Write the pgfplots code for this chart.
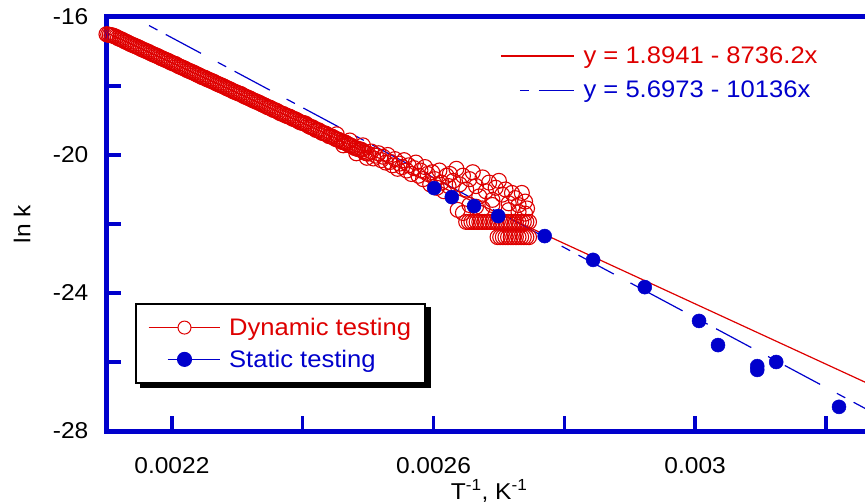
\documentclass[border=0pt]{standalone}
\usepackage{pgfplots}
\pgfplotsset{compat=1.18}
\usepackage{pgfplotstable}
\usepackage{fontspec}
\setmainfont{Liberation Sans}[FakeStretch=1.07]
\definecolor{mred}{RGB}{222,0,0}
\definecolor{mblue}{RGB}{0,0,204}
\pgfdeclarelayer{bg}
\pgfsetlayers{bg,main}

\pgfplotstableread{
x y
0.002100 -16.50
0.0021025 -16.51
0.002105 -16.52
0.0021075 -16.53
0.002110 -16.54
0.0021125 -16.56
0.002115 -16.58
0.0021175 -16.61
0.002120 -16.63
0.0021225 -16.65
0.002125 -16.67
0.0021275 -16.70
0.002130 -16.72
0.0021325 -16.74
0.002135 -16.77
0.0021375 -16.79
0.002140 -16.81
0.0021425 -16.83
0.002145 -16.85
0.0021475 -16.87
0.002150 -16.89
0.0021525 -16.92
0.002155 -16.94
0.0021575 -16.96
0.002160 -16.98
0.0021625 -17.00
0.002165 -17.02
0.0021675 -17.05
0.002170 -17.07
0.0021725 -17.09
0.002175 -17.11
0.0021775 -17.13
0.002180 -17.15
0.0021825 -17.18
0.002185 -17.20
0.0021875 -17.22
0.002190 -17.24
0.0021925 -17.26
0.002195 -17.28
0.0021975 -17.31
0.002200 -17.33
0.0022025 -17.35
0.002205 -17.36
0.0022075 -17.39
0.002210 -17.42
0.0022125 -17.44
0.002215 -17.46
0.0022175 -17.48
0.002220 -17.50
0.0022225 -17.53
0.002225 -17.55
0.0022275 -17.57
0.002230 -17.59
0.0022325 -17.61
0.002235 -17.63
0.0022375 -17.66
0.002240 -17.68
0.0022425 -17.70
0.002245 -17.73
0.0022475 -17.75
0.002250 -17.76
0.0022525 -17.79
0.002255 -17.81
0.0022575 -17.83
0.002260 -17.85
0.0022625 -17.87
0.002265 -17.89
0.0022675 -17.92
0.002270 -17.94
0.0022725 -17.96
0.002275 -17.98
0.0022775 -18.00
0.002280 -18.02
0.0022825 -18.05
0.002285 -18.07
0.0022875 -18.09
0.002290 -18.11
0.0022925 -18.14
0.002295 -18.16
0.0022975 -18.18
0.002300 -18.20
0.0023025 -18.22
0.002305 -18.23
0.0023075 -18.26
0.002310 -18.29
0.0023125 -18.31
0.002315 -18.33
0.0023175 -18.35
0.002320 -18.37
0.0023225 -18.40
0.002325 -18.42
0.0023275 -18.44
0.002330 -18.46
0.0023325 -18.48
0.002335 -18.50
0.0023375 -18.53
0.002340 -18.55
0.0023425 -18.57
0.002345 -18.60
0.0023475 -18.62
0.002350 -18.63
0.0023525 -18.66
0.002355 -18.69
0.0023575 -18.70
0.002360 -18.72
0.0023625 -18.75
0.002365 -18.78
0.0023675 -18.80
0.002370 -18.81
0.0023725 -18.84
0.002375 -18.86
0.0023775 -18.88
0.002380 -18.89
0.0023825 -18.92
0.002385 -18.95
0.0023875 -18.96
0.002390 -18.98
0.0023925 -19.01
0.002395 -19.04
0.0023975 -19.06
0.002400 -19.07
0.0024025 -19.08
0.002405 -19.10
0.0024075 -19.14
0.002410 -19.17
0.0024125 -19.19
0.002415 -19.20
0.0024175 -19.23
0.002420 -19.27
0.0024225 -19.28
0.002425 -19.29
0.0024275 -19.33
0.002430 -19.36
0.0024325 -19.37
0.002435 -19.38
0.0024375 -19.41
0.002440 -19.45
0.0024425 -19.46
0.002445 -19.47
0.0024475 -19.50
0.002450 -19.53
0.0024525 -19.55
0.002455 -19.56
0.0024575 -19.59
0.002460 -19.62
0.0024625 -19.63
0.002465 -19.64
0.0024675 -19.67
0.002470 -19.70
0.0024725 -19.72
0.002475 -19.74
0.0024775 -19.77
0.002480 -19.80
0.0024825 -19.81
0.002485 -19.83
0.0024875 -19.84
0.002490 -19.85
0.0024925 -19.89
0.002495 -19.93
0.0024975 -19.95
0.002500 -19.96
0.002452 -19.40
0.002462 -19.72
0.002472 -19.58
0.002482 -19.95
0.002492 -19.72
0.002498 -20.08
0.002505 -19.90
0.002508 -20.10
0.002512 -20.02
0.002516 -19.95
0.002520 -20.15
0.002523 -20.05
0.002527 -20.22
0.002530 -20.00
0.002534 -20.20
0.002537 -20.30
0.002541 -20.12
0.002545 -20.40
0.002548 -20.25
0.002552 -20.35
0.002555 -20.15
0.002559 -20.45
0.002562 -20.30
0.002566 -20.55
0.002570 -20.38
0.002573 -20.22
0.002577 -20.60
0.002580 -20.45
0.002584 -20.70
0.002587 -20.35
0.002591 -20.55
0.002595 -20.85
0.002598 -20.50
0.002602 -20.70
0.002605 -20.95
0.002609 -20.45
0.002612 -20.80
0.002616 -21.05
0.002620 -20.60
0.002623 -20.90
0.002625 -20.55
0.002630 -20.75
0.002635 -20.40
0.002640 -20.85
0.002645 -20.60
0.002650 -21.00
0.002655 -20.70
0.002660 -20.50
0.002665 -20.90
0.002670 -21.20
0.002675 -20.65
0.002680 -21.05
0.002685 -20.80
0.002690 -21.30
0.002695 -20.95
0.002700 -20.75
0.002705 -21.15
0.002710 -21.00
0.002715 -21.40
0.002720 -21.10
0.002725 -21.25
0.002730 -21.45
0.002735 -21.10
0.002740 -21.35
0.002743 -21.55
0.002637 -21.59
0.002645 -21.68
0.002655 -21.45
0.002665 -21.50
0.002675 -21.55
0.002690 -21.45
0.002715 -21.60
0.002730 -21.65
0.002740 -21.70
0.002650 -21.94
0.002654 -21.94
0.002658 -21.94
0.002662 -21.94
0.002666 -21.94
0.002670 -21.94
0.002674 -21.94
0.002678 -21.94
0.002682 -21.94
0.002686 -21.94
0.002690 -21.94
0.002694 -21.94
0.002698 -21.94
0.002702 -21.94
0.002706 -21.94
0.002710 -21.94
0.002714 -21.94
0.002718 -21.94
0.002722 -21.94
0.002726 -21.94
0.002730 -21.94
0.002734 -21.94
0.002738 -21.94
0.002742 -21.94
0.002746 -21.94
0.002698 -22.38
0.002702 -22.38
0.002706 -22.38
0.002710 -22.38
0.002714 -22.38
0.002718 -22.38
0.002722 -22.38
0.002726 -22.38
0.002730 -22.38
0.002734 -22.38
0.002738 -22.38
0.002742 -22.38
0.002746 -22.38
}\dyn

\pgfplotstableread{
x y
0.002601 -20.96
0.002628 -21.22
0.002662 -21.48
0.002699 -21.77
0.002770 -22.35
0.002844 -23.04
0.002923 -23.83
0.003006 -24.81
0.003035 -25.51
0.003095 -26.12
0.003095 -26.23
0.003124 -26.00
0.003220 -27.30
}\sta

\tikzset{
  redfit/.style={draw=mred, line width=1.2bp},
  bluefit/.style={draw=mblue, line width=1.2bp, dash pattern=on 9.5bp off 9.5bp on 40bp off 19bp},
}

\begin{document}
\begin{tikzpicture}
\path[use as bounding box] (-106.5bp,-73bp) rectangle (758.5bp,431bp);
% fit lines with equation legend
\begin{axis}[at={(0,0)}, anchor=south west, scale only axis,
  width=765.2bp, height=414bp,
  xmin=0.0021, xmax=0.00327, ymin=-28, ymax=-16,
  hide axis,
  legend cell align=left,
  legend style={draw=none, fill=none, font=\fontsize{24}{28}\selectfont,
    at={(axis description cs:0.7233,0.8645)}, anchor=center,
    row sep=12bp, column sep=7bp}]
\addplot[redfit, legend image code/.code={\draw[redfit] (0bp,0bp) -- (73bp,0bp);}]
  coordinates {(0.0021,-16.452) (0.00327,-26.673)};
\addlegendentry{\textcolor{mred}{y = 1.8941 - 8736.2x}}
\addplot[bluefit, legend image code/.code={\draw[bluefit, dash phase=59bp] (0bp,0bp) -- (73bp,0bp);}]
  coordinates {(0.002165,-16.247) (0.00327,-27.448)};
\addlegendentry{\textcolor{mblue}{y = 5.6973 - 10136x}}
\end{axis}
% data axis
\begin{axis}[at={(0,0)}, anchor=south west, scale only axis,
  width=765.2bp, height=414bp,
  xmin=0.0021, xmax=0.00327, ymin=-28, ymax=-16,
  axis line style={mblue, line width=5bp},
  scaled x ticks=false, scaled y ticks=false,
  xtick={0.0022,0.0026,0.003}, xticklabels={0.0022,0.0026,0.003},
  minor xtick={0.0024,0.0028,0.0032},
  ytick={-28,-24,-20,-16}, yticklabels={-28,-24,-20,-16},
  minor ytick={-26,-22,-18},
  xtick pos=left, ytick pos=left, tick align=inside,
  major tick length=15bp, minor tick length=15bp,
  tick style={mblue, line width=3.5bp},
  minor tick style={mblue, line width=3.5bp},
  tick label style={font=\fontsize{23}{27}\selectfont, black},
  xticklabel style={anchor=center, yshift=-35bp},
  yticklabel style={anchor=east, inner sep=0pt, xshift=-18bp},
  xlabel={T\textsuperscript{-1}, K\textsuperscript{-1}},
  ylabel={ln k},
  label style={font=\fontsize{23}{27}\selectfont},
  xlabel style={at={(axis description cs:0.5,0)}, anchor=center, yshift=-60bp},
  ylabel style={at={(axis description cs:-0.1104,0.5)}, anchor=center},
  legend cell align=left,
  legend style={name=leg1, draw=black, line width=1.5bp, fill=white,
    font=\fontsize{24}{28}\selectfont,
    at={(axis description cs:0.2274,0.2114)}, anchor=center,
    inner xsep=12bp, inner ysep=12bp, row sep=9bp, column sep=7bp},
]
\addplot[only marks, mark=o, mark size=7.5bp, color=mred, mark options={line width=1.1bp},
  legend image code/.code={\draw[redfit] (0bp,0bp) -- (71bp,0bp); \draw[mred, line width=1bp, fill=white] (36bp,0bp) circle (6.5bp);}]
  table[x=x, y=y] {\dyn};
\addlegendentry{\textcolor{mred}{Dynamic testing}}
\addplot[only marks, mark=*, mark size=7bp, color=mblue, mark options={fill=mblue, line width=0.5bp},
  legend image code/.code={\draw[bluefit, dash phase=59bp] (0bp,0bp) -- (71bp,0bp); \fill[mblue] (36bp,0bp) circle (6.8bp);}]
  table[x=x, y=y] {\sta};
\addlegendentry{\textcolor{mblue}{Static testing}}
\end{axis}
\begin{pgfonlayer}{bg}
\fill[black] ([xshift=5bp,yshift=-4bp]leg1.south west) rectangle ([xshift=5bp,yshift=-4bp]leg1.north east);
\end{pgfonlayer}
\end{tikzpicture}
\end{document}
